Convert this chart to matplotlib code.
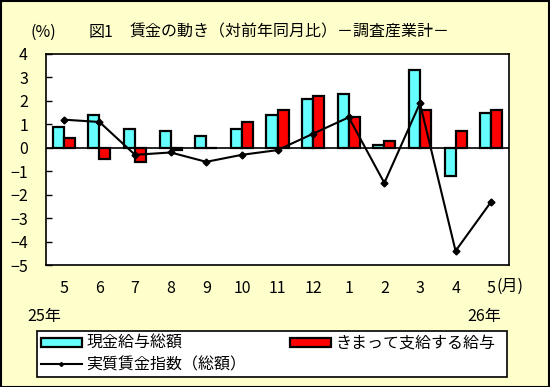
import numpy as np
import matplotlib
matplotlib.use("Agg")
import matplotlib.pyplot as plt
from matplotlib.lines import Line2D
from matplotlib.patches import Patch

plt.rcParams['font.family'] = ['Noto Sans CJK JP', 'DejaVu Sans']
plt.rcParams['axes.unicode_minus'] = True

months = ['5', '6', '7', '8', '9', '10', '11', '12', '1', '2', '3', '4', '5']
cash_total = [0.9, 1.4, 0.8, 0.7, 0.5, 0.8, 1.4, 2.1, 2.3, 0.1, 3.3, -1.2, 1.5]
regular_pay = [0.4, -0.5, -0.6, -0.1, 0.0, 1.1, 1.6, 2.2, 1.3, 0.3, 1.6, 0.7, 1.6]
real_wage = [1.2, 1.1, -0.3, -0.2, -0.6, -0.3, -0.1, 0.6, 1.3, -1.5, 1.9, -4.4, -2.3]

bg = '#FFFFCC'
cyan = '#66FFFF'
red = '#FF0000'
fs = 11.5

W, H = 550, 387


def fx(px):
    return px / W


def fy(py):
    return 1 - py / H


fig = plt.figure(figsize=(5.5, 3.87), dpi=100, facecolor=bg)
fig.patches.append(plt.Rectangle((0.001, 0.001), 0.997, 0.997, transform=fig.transFigure,
                                 fill=False, edgecolor='black', linewidth=1.5))
ax = fig.add_axes([fx(46), fy(265), 463 / W, 211 / H])
ax.set_facecolor('white')

x = np.arange(len(months))
w = 0.31
ax.bar(x - w / 2, cash_total, w, color=cyan, edgecolor='black', linewidth=1.6, zorder=2)
ax.bar(x + w / 2, regular_pay, w, color=red, edgecolor='black', linewidth=1.6, zorder=2)
ax.axhline(0, color='black', linewidth=1.2, zorder=1)
ax.plot(x, real_wage, color='black', linewidth=1.5, marker='D', markersize=3.5, zorder=3)

ax.set_xlim(-0.5, len(months) - 0.5)
ax.set_ylim(-5, 4)
ax.set_yticks(range(-5, 5))
ax.set_xticks(x)
ax.set_xticklabels(months)
ax.tick_params(axis='y', direction='in', length=4, width=1, pad=13, labelsize=fs)
ax.tick_params(axis='x', length=0, pad=11, labelsize=fs)
for s in ax.spines.values():
    s.set_linewidth(1.2)

fig.text(fx(31), fy(32), '(%)', fontsize=fs, va='center')
fig.text(fx(89), fy(32), '図1', fontsize=fs, va='center')
fig.text(fx(130), fy(32), '賃金の動き（対前年同月比）－調査産業計－', fontsize=fs, va='center')
fig.text(fx(497), fy(286), '(月)', fontsize=fs, va='center')
fig.text(fx(27), fy(316), '25年', fontsize=fs, va='center')
fig.text(fx(467), fy(316), '26年', fontsize=fs, va='center')

# legend: framed left column spanning the whole box, frameless right column
leg_kw = dict(fontsize=fs, handlelength=2.55, handleheight=0.45, handletextpad=0.3,
              labelspacing=0.25, borderpad=0.25, borderaxespad=0)
h_cash = Patch(facecolor=cyan, edgecolor='black', linewidth=1.6)
h_real = Line2D([], [], color='black', linewidth=1.5, marker='D', markersize=2)
h_reg = Patch(facecolor=red, edgecolor='black', linewidth=1.6)
leg1 = fig.legend([h_cash, h_real], ['現金給与総額', '実質賃金指数（総額）'],
                  loc='upper left', mode='expand',
                  bbox_to_anchor=(fx(37), fy(378), 470 / W, 47 / H),
                  frameon=True, fancybox=False, edgecolor='black', framealpha=1,
                  **leg_kw)
leg1.get_frame().set_linewidth(1.2)
leg2 = fig.legend([h_reg], ['きまって支給する給与'], loc='upper left',
                  bbox_to_anchor=(fx(286), fy(331)), frameon=False, **leg_kw)

fig.savefig('out.png', dpi=100, facecolor=bg)
